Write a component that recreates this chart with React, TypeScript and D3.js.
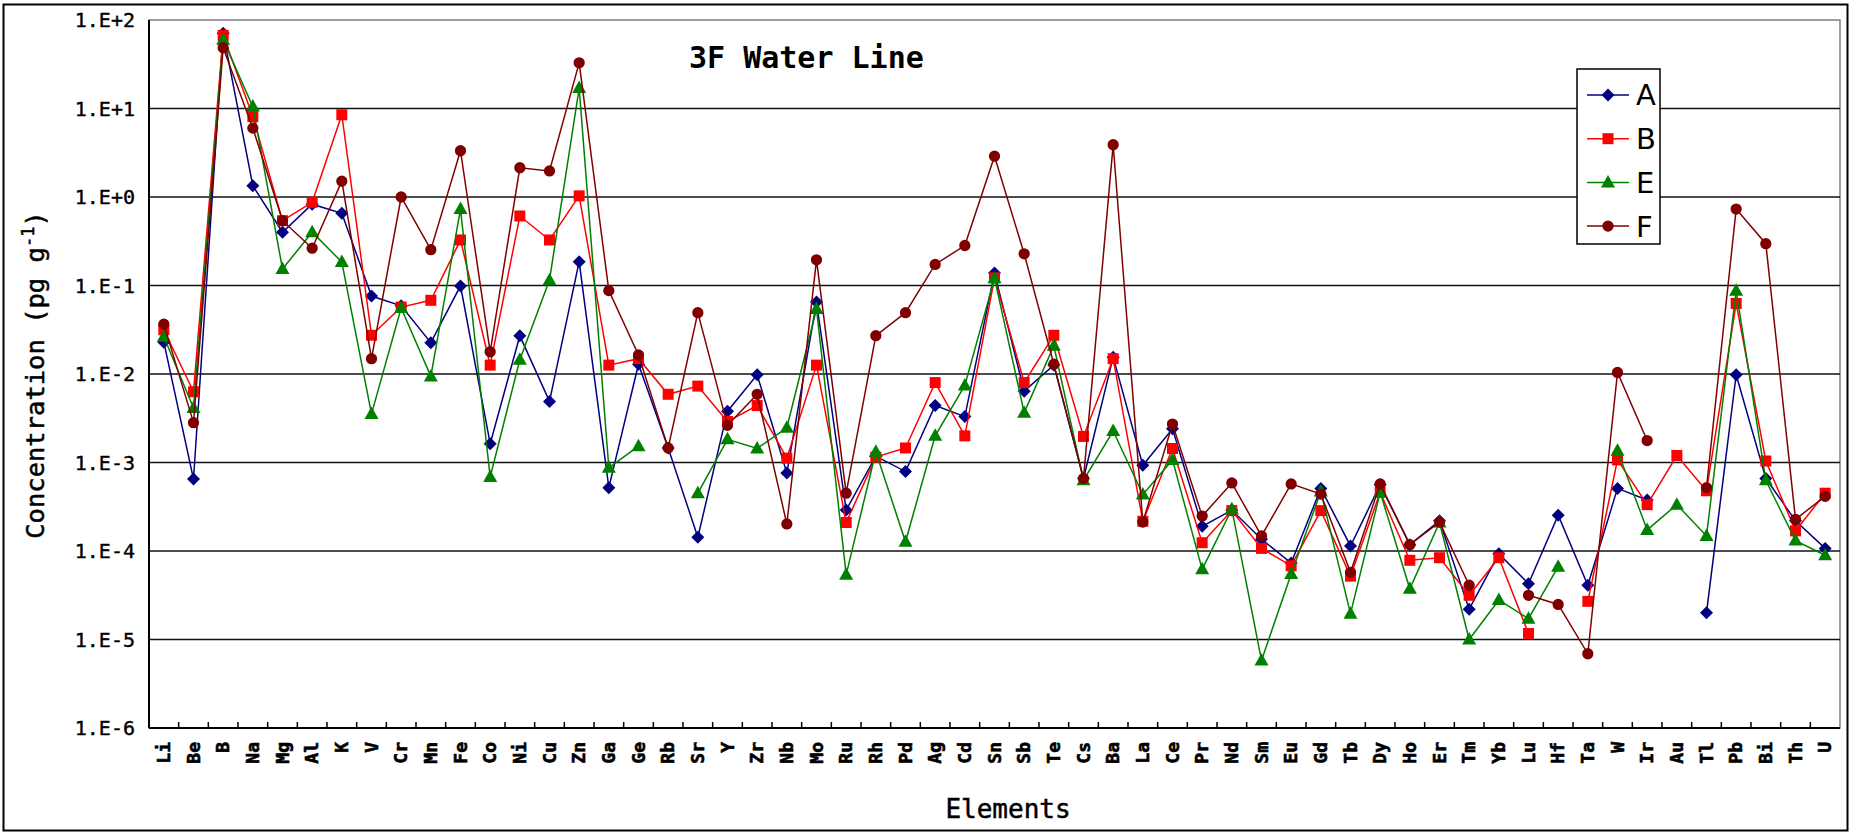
import { useEffect } from 'react';
import * as d3 from 'd3';

// categories on the x axis
const elements = [
  'Li', 'Be', 'B', 'Na', 'Mg', 'Al', 'K', 'V', 'Cr', 'Mn', 'Fe', 'Co', 'Ni', 'Cu', 'Zn', 'Ga', 'Ge', 'Rb', 'Sr', 'Y',
  'Zr', 'Nb', 'Mo', 'Ru', 'Rh', 'Pd', 'Ag', 'Cd', 'Sn', 'Sb', 'Te', 'Cs', 'Ba', 'La', 'Ce', 'Pr', 'Nd', 'Sm', 'Eu', 'Gd',
  'Tb', 'Dy', 'Ho', 'Er', 'Tm', 'Yb', 'Lu', 'Hf', 'Ta', 'W', 'Ir', 'Au', 'Tl', 'Pb', 'Bi', 'Th', 'U',
];

const seriesA = [
  0.0229, 0.00065, 71, 1.34, 0.4, 0.83, 0.655, 0.076, 0.059, 0.0226, 0.099, 0.00163, 0.027, 0.0049, 0.186, 0.00052, 0.0129, 0.00146, 0.000143, 0.0038,
  0.0098, 0.00076, 0.065, 0.00029, 0.00118, 0.00079, 0.0044, 0.0033, 0.138, 0.0064, 0.0126, 0.00066, 0.0155, 0.00093, 0.0024, 0.00019, 0.00029, 0.000136, 0.000073, 0.00051,
  0.000114, 0.00056, 0.000118, 0.00022, 0.000022, 0.000093, 0.0000427, 0.000254, 0.000041, 0.00051, 0.000377, null, 0.00002, 0.0098, 0.00066, 0.00022, 0.000107,
];

const seriesB = [
  0.0316, 0.0063, 67, 8.1, 0.54, 0.87, 8.5, 0.0274, 0.057, 0.068, 0.327, 0.0126, 0.61, 0.327, 1.03, 0.0126, 0.0149, 0.0059, 0.0073, 0.0029,
  0.0044, 0.00112, 0.0126, 0.00021, 0.00115, 0.00146, 0.008, 0.002, 0.122, 0.008, 0.0274, 0.00197, 0.0149, 0.000217, 0.00144, 0.000124, 0.000286, 0.000107, 0.000068, 0.000286,
  0.000052, 0.00046, 0.0000785, 0.000084, 0.0000316, 0.000084, 0.0000117, null, 0.000027, 0.00107, 0.000334, 0.0012, 0.000479, 0.0627, 0.00104, 0.000169, 0.00045,
];

const seriesE = [
  0.0264, 0.00413, 59.7, 10.5, 0.154, 0.4, 0.184, 0.00354, 0.0556, 0.0094, 0.73, 0.000686, 0.0145, 0.115, 17, 0.00087, 0.00153, null, 0.00045, 0.00183,
  0.00144, 0.00247, 0.0542, 0.000054, 0.00132, 0.000127, 0.002, 0.00743, 0.121, 0.00366, 0.0208, 0.00063, 0.00227, 0.000435, 0.00107, 0.000062, 0.000297, 0.0000058, 0.000055, 0.00047,
  0.0000196, 0.00046, 0.0000374, 0.00021, 0.00001, 0.000028, 0.0000172, 0.0000664, null, 0.00136, 0.000173, 0.000334, 0.000148, 0.0875, 0.00063, 0.000131, 0.0000895,
];

const seriesF = [
  0.0366, 0.00282, 48.7, 6.0, 0.54, 0.264, 1.51, 0.0149, 1.0, 0.254, 3.33, 0.0178, 2.14, 1.97, 32.8, 0.0875, 0.0164, 0.00146, 0.0493, 0.00263,
  0.0059, 0.000202, 0.195, 0.00045, 0.0271, 0.0493, 0.173, 0.283, 2.89, 0.228, 0.0129, 0.00066, 3.9, 0.000212, 0.00272, 0.000248, 0.000587, 0.000148, 0.000573, 0.00044,
  0.0000575, 0.000573, 0.000118, 0.000212, 0.000041, null, 0.0000316, 0.0000249, 0.0000069, 0.0104, 0.00177, null, 0.00052, 0.73, 0.297, 0.000228, 0.000415,
];

const seriesNames = ['A', 'B', 'E', 'F'];
const seriesColors = ['#000080', '#ff0000', '#008000', '#800000'];
const seriesShapes = ['diamond', 'square', 'triangle', 'circle'];

const yTickValues = [1e2, 1e1, 1e0, 1e-1, 1e-2, 1e-3, 1e-4, 1e-5, 1e-6];
const yTickLabels = ['1.E+2', '1.E+1', '1.E+0', '1.E-1', '1.E-2', '1.E-3', '1.E-4', '1.E-5', '1.E-6'];

const W = 1852;
const H = 834;
const plot = { left: 149, right: 1840, top: 20, bottom: 728 };
const mono = '"DejaVu Sans Mono", "Liberation Mono", monospace';

const markerPath = (shape: string) => {
  if (shape === 'diamond') return 'M0,-6.5L6.5,0L0,6.5L-6.5,0Z';
  if (shape === 'square') return 'M-5.5,-5.5H5.5V5.5H-5.5Z';
  if (shape === 'triangle') return 'M0,-7.5L7,5L-7,5Z';
  return d3.symbol().type(d3.symbolCircle).size(100)() as string;
};

export default function App() {
  useEffect(() => {
    document.body.style.margin = '0';
  }, []);

  const x = d3.scaleBand<string>().domain(elements).range([plot.left, plot.right]).padding(0);
  const y = d3.scaleLog().domain([1e-6, 1e2]).range([plot.bottom, plot.top]);

  const allSeries = [seriesA, seriesB, seriesE, seriesF];

  const line = d3
    .line<number | null>()
    .defined(d => d != null)
    .x((d, i) => (x(elements[i]) as number) + x.bandwidth() / 2)
    .y(d => y(d as number));

  return (
    <svg width={W} height={H} style={{ position: 'absolute', left: 0, top: 0, background: '#fff' }}>
      <rect x={3.5} y={4.5} width={1844} height={826} fill="#fff" stroke="#000" strokeWidth={2} />

      {/* plot area */}
      <rect x={plot.left} y={plot.top} width={plot.right - plot.left} height={plot.bottom - plot.top} fill="#fff" stroke="#808080" strokeWidth={1.5} />

      {yTickValues.slice(1, -1).map(v => (
        <line key={v} x1={plot.left} x2={plot.right} y1={y(v)} y2={y(v)} stroke="#111" strokeWidth={1.5} />
      ))}

      {/* axes */}
      <line x1={plot.left} x2={plot.left} y1={plot.top} y2={plot.bottom} stroke="#000" strokeWidth={2} />
      <line x1={plot.left} x2={plot.right} y1={plot.bottom} y2={plot.bottom} stroke="#000" strokeWidth={2} />

      {elements.map((el, i) =>
        i === 0 ? null : (
          <line key={'t' + el} x1={x(el)} x2={x(el)} y1={plot.bottom} y2={plot.bottom - 6} stroke="#000" strokeWidth={1.5} />
        ),
      )}

      {yTickValues.map((v, i) => (
        <text key={'yl' + v} x={plot.left - 14} y={y(v)} dy="0.35em" textAnchor="end" fontFamily={mono} fontSize={20} fill="#000" stroke="#000" strokeWidth={0.4}>
          {yTickLabels[i]}
        </text>
      ))}

      {elements.map(el => (
        <text
          key={'xl' + el}
          transform={`translate(${(x(el) as number) + x.bandwidth() / 2},${plot.bottom + 14}) rotate(-90)`}
          textAnchor="end"
          dy="0.35em"
          fontFamily={mono}
          fontWeight="bold"
          fontSize={18}
          fill="#000"
          stroke="#000"
          strokeWidth={0.6}
        >
          {el}
        </text>
      ))}

      {/* series */}
      {allSeries.map((data, s) => (
        <g key={seriesNames[s]}>
          <path d={line(data) as string} fill="none" stroke={seriesColors[s]} strokeWidth={1.5} />
          {data.map((d, i) =>
            d == null ? null : (
              <path
                key={i}
                d={markerPath(seriesShapes[s])}
                transform={`translate(${(x(elements[i]) as number) + x.bandwidth() / 2},${y(d)})`}
                fill={seriesColors[s]}
              />
            ),
          )}
        </g>
      ))}

      {/* titles */}
      <text x={689} y={68} fontFamily={mono} fontWeight="bold" fontSize={30} fill="#000">
        3F Water Line
      </text>
      <text x={1008} y={818} textAnchor="middle" fontFamily={mono} fontSize={26} fill="#000" stroke="#000" strokeWidth={0.5}>
        Elements
      </text>
      <text transform="translate(44,375) rotate(-90)" textAnchor="middle" fontFamily={mono} fontSize={25.5} fill="#000" stroke="#000" strokeWidth={0.5}>
        Concentration (pg g
        <tspan dy={-10} fontSize={17}>-1</tspan>
        <tspan dy={10}>)</tspan>
      </text>

      {/* legend */}
      <g>
        <rect x={1577} y={69} width={83} height={175} fill="#fff" stroke="#000" strokeWidth={1.5} />
        {seriesNames.map((name, s) => {
          const ly = 95 + s * 43.7;
          return (
            <g key={'lg' + name}>
              <line x1={1587} x2={1629} y1={ly} y2={ly} stroke={seriesColors[s]} strokeWidth={1.5} />
              <path d={markerPath(seriesShapes[s])} transform={`translate(1608,${ly})`} fill={seriesColors[s]} />
              <text x={1636} y={ly} dy="0.36em" fontFamily='"DejaVu Sans", sans-serif' fontSize={29} fill="#000">
                {name}
              </text>
            </g>
          );
        })}
      </g>
    </svg>
  );
}
